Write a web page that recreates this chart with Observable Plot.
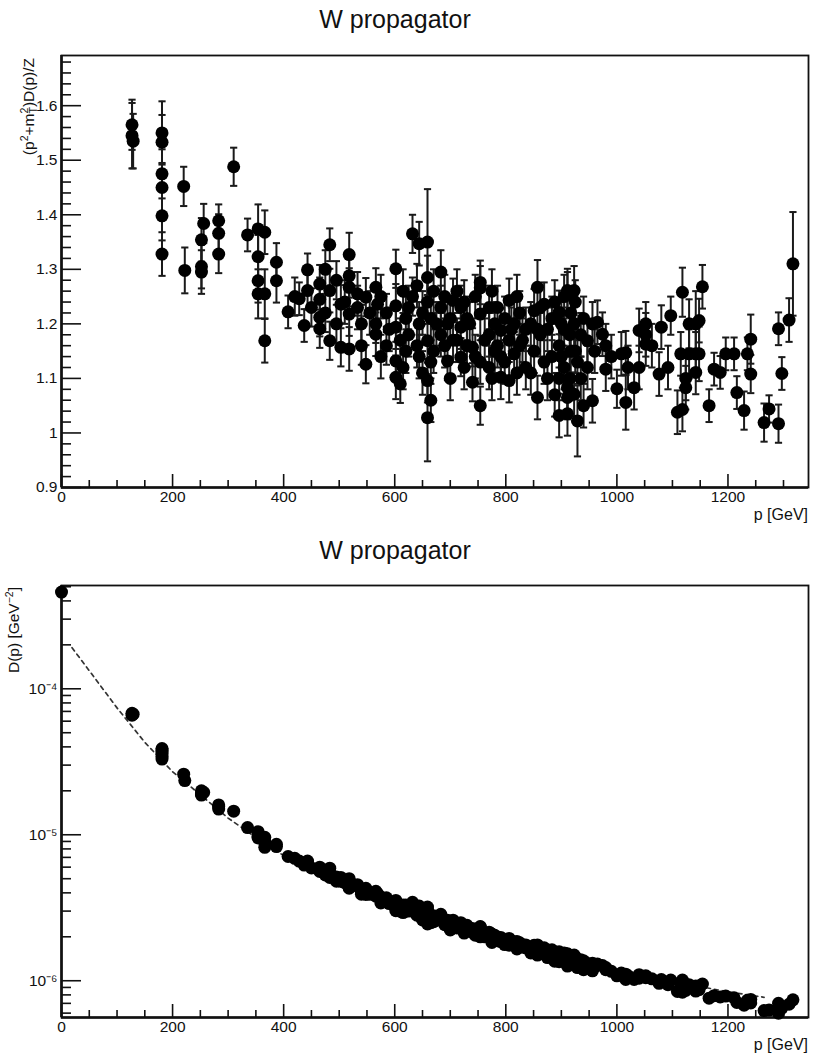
<!DOCTYPE html>
<html><head><meta charset="utf-8">
<script src="https://cdn.jsdelivr.net/npm/d3@7"></script>
<script src="https://cdn.jsdelivr.net/npm/@observablehq/plot@0.6"></script>
<style>
body{margin:0;background:#fff;}
#wrap{position:relative;width:813px;height:1064px;font-family:"Liberation Sans",Arial,sans-serif;background:#fff;overflow:hidden;}
.title{position:absolute;left:0;width:790px;text-align:center;font-size:25px;line-height:25px;color:#111;}
.plot{position:absolute;left:0;}
</style></head><body>
<div id="wrap">
  <div class="title" style="top:7px">W propagator</div>
  <div class="plot" id="top" style="top:40px"></div>
  <div class="title" style="top:538px">W propagator</div>
  <div class="plot" id="bot" style="top:570px"></div>
</div>
<script>
// ---------- data ----------
const xTitle = "p [GeV]";
const xDomain = [0, 1345];
const yDomainTop = [0.9, 1.692];
const yDomainBot = [5.6e-7, 5.1e-4];
const xMajor = [0, 200, 400, 600, 800, 1000, 1200];
const xMinor = [50,100,150,250,300,350,450,500,550,650,700,750,850,900,950,1050,1100,1150,1250,1300];
const yMajorTop = [0.9, 1, 1.1, 1.2, 1.3, 1.4, 1.5, 1.6];
const yMajorTopLabels = ["0.9", "1", "1.1", "1.2", "1.3", "1.4", "1.5", "1.6"];
const yMinorTop = [0.92,0.94,0.96,0.98,1.02,1.04,1.06,1.08,1.12,1.14,1.16,1.18,1.22,1.24,1.26,1.28,1.32,1.34,1.36,1.38,1.42,1.44,1.46,1.48,1.52,1.54,1.56,1.58,1.62,1.64,1.66,1.68];
const yMajorBot = [1e-6, 1e-5, 1e-4];
const yMajorBotLabels = ["10\u207B\u2076", "10\u207B\u2075", "10\u207B\u2074"];
const yMinorBot = [6e-7,7e-7,8e-7,9e-7,2e-6,3e-6,4e-6,5e-6,6e-6,7e-6,8e-6,9e-6,2e-5,3e-5,4e-5,5e-5,6e-5,7e-5,8e-5,9e-5,2e-4,3e-4,4e-4,5e-4];

// top panel: [p, (p^2+m^2)D(p)/Z, error]
const topPoints = [
[127,1.565,0.046],[127,1.545,0.06],[129,1.535,0.05],
[181,1.55,0.058],[181,1.533,0.05],[181,1.475,0.045],[181,1.45,0.045],[181,1.398,0.045],[181,1.328,0.04],
[220,1.452,0.036],[222,1.298,0.042],
[252,1.354,0.04],[252,1.305,0.04],[252,1.295,0.04],[256,1.384,0.036],
[283,1.389,0.03],[283,1.366,0.035],[283,1.328,0.035],
[310,1.488,0.035],[335,1.363,0.03],
[354,1.374,0.045],[354,1.323,0.04],[354,1.279,0.04],[354,1.255,0.045],
[366,1.368,0.04],[366,1.255,0.045],[366,1.169,0.04],
[387,1.313,0.035],[387,1.279,0.04],
[408,1.222,0.03],[420,1.25,0.035],[428,1.246,0.03],[437,1.197,0.03],
[443,1.299,0.03],[443,1.261,0.035],[450,1.23,0.035],
[465,1.273,0.035],[465,1.245,0.04],[465,1.212,0.035],[465,1.191,0.035],
[475,1.3,0.035],[475,1.22,0.035],
[483,1.345,0.03],[483,1.261,0.04],[483,1.169,0.035],
[495,1.28,0.035],[495,1.2,0.035],
[503,1.236,0.035],[503,1.157,0.035],[510,1.24,0.04],
[518,1.327,0.04],[518,1.288,0.04],[518,1.267,0.035],[518,1.218,0.04],[518,1.154,0.04],
[533,1.255,0.04],[533,1.23,0.04],[540,1.2,0.035],[540,1.16,0.035],
[548,1.249,0.035],[548,1.126,0.035],[555,1.22,0.04],
[566,1.267,0.035],[566,1.2,0.035],[566,1.181,0.04],[569,1.236,0.035],
[575,1.25,0.04],[575,1.14,0.04],
[585,1.22,0.035],[585,1.16,0.035],[590,1.19,0.04],
[602,1.301,0.035],[602,1.233,0.04],[602,1.194,0.04],[602,1.132,0.035],[602,1.102,0.04],
[610,1.17,0.04],[610,1.09,0.035],[615,1.26,0.04],[615,1.12,0.04],
[620,1.21,0.04],[620,1.15,0.04],[625,1.23,0.04],[625,1.18,0.04],
[632,1.365,0.035],[632,1.25,0.035],
[640,1.27,0.04],[640,1.16,0.04],
[644,1.347,0.04],[644,1.2,0.04],[644,1.14,0.04],
[650,1.22,0.04],[650,1.11,0.04],
[659,1.35,0.097],[659,1.285,0.04],[659,1.24,0.04],[659,1.169,0.04],[659,1.096,0.04],[659,1.028,0.08],
[665,1.21,0.04],[665,1.13,0.04],[665,1.06,0.04],
[670,1.26,0.04],[670,1.15,0.04],[675,1.2,0.04],
[683,1.295,0.04],[683,1.23,0.04],[683,1.18,0.04],
[690,1.25,0.04],[690,1.16,0.04],
[695,1.2,0.04],[695,1.132,0.035],
[700,1.21,0.04],[700,1.1,0.04],
[705,1.243,0.04],[705,1.17,0.04],
[712,1.26,0.04],[712,1.17,0.04],
[719,1.23,0.04],[719,1.194,0.04],[719,1.139,0.035],
[725,1.24,0.04],[725,1.12,0.04],
[730,1.21,0.04],[730,1.16,0.04],[735,1.2,0.04],
[740,1.157,0.035],[740,1.093,0.035],
[745,1.25,0.04],[745,1.14,0.04],
[754,1.276,0.04],[754,1.266,0.04],[754,1.218,0.04],[754,1.13,0.04],[754,1.05,0.035],
[762,1.17,0.04],
[770,1.23,0.04],[770,1.18,0.04],[770,1.12,0.04],
[775,1.26,0.04],[775,1.1,0.04],
[780,1.2,0.04],[780,1.15,0.04],
[785,1.23,0.04],[785,1.16,0.04],
[791,1.188,0.04],[791,1.14,0.04],[791,1.102,0.04],
[798,1.21,0.04],[798,1.13,0.04],
[806,1.243,0.04],[806,1.17,0.04],[806,1.096,0.04],
[810,1.19,0.04],
[815,1.2,0.04],[815,1.145,0.04],
[820,1.25,0.04],[820,1.11,0.04],
[825,1.22,0.04],[825,1.16,0.04],[830,1.17,0.04],
[836,1.19,0.04],[836,1.12,0.04],
[845,1.2,0.04],[845,1.11,0.04],
[851,1.224,0.04],[851,1.15,0.04],
[857,1.267,0.05],[857,1.19,0.04],[857,1.065,0.04],
[862,1.23,0.04],[862,1.18,0.04],
[869,1.236,0.04],[869,1.13,0.04],
[875,1.19,0.04],[875,1.1,0.04],
[883,1.21,0.04],[883,1.14,0.04],
[888,1.24,0.04],[888,1.07,0.04],
[896,1.221,0.04],[896,1.16,0.04],[896,1.1,0.04],[896,1.032,0.04],
[900,1.2,0.04],[900,1.14,0.04],
[905,1.25,0.04],[905,1.19,0.04],[905,1.12,0.04],
[911,1.261,0.04],[911,1.255,0.04],[911,1.083,0.04],[911,1.065,0.04],[911,1.035,0.04],
[915,1.18,0.04],[915,1.1,0.04],
[917,1.22,0.04],[917,1.15,0.04],
[923,1.261,0.045],[923,1.2,0.04],[923,1.071,0.04],
[925,1.24,0.04],[925,1.15,0.04],
[929,1.13,0.04],[929,1.022,0.065],
[935,1.18,0.04],[935,1.1,0.04],
[940,1.21,0.04],[940,1.05,0.04],
[947,1.169,0.04],[947,1.12,0.04],
[956,1.2,0.04],[956,1.059,0.04],[960,1.15,0.04],
[965,1.203,0.04],[974,1.181,0.04],
[980,1.16,0.04],[980,1.117,0.04],[990,1.14,0.04],
[1000,1.081,0.035],[1008,1.145,0.04],
[1016,1.147,0.04],[1016,1.056,0.05],[1020,1.12,0.04],
[1031,1.083,0.04],
[1040,1.188,0.04],[1040,1.12,0.04],
[1052,1.2,0.04],[1052,1.18,0.04],[1052,1.163,0.04],
[1063,1.16,0.04],[1076,1.108,0.04],[1080,1.194,0.04],[1092,1.12,0.04],[1097,1.215,0.035],
[1109,1.038,0.04],[1115,1.145,0.04],
[1118,1.258,0.045],[1118,1.043,0.04],
[1124,1.1,0.04],[1124,1.083,0.04],
[1130,1.2,0.045],[1130,1.145,0.045],
[1142,1.2,0.06],[1142,1.145,0.04],[1142,1.111,0.04],
[1148,1.206,0.04],[1148,1.145,0.05],
[1154,1.268,0.04],[1166,1.05,0.03],[1175,1.117,0.03],[1186,1.111,0.03],[1196,1.145,0.03],
[1211,1.145,0.03],[1216,1.074,0.03],[1229,1.041,0.035],[1235,1.145,0.03],
[1241,1.172,0.045],[1241,1.108,0.035],
[1265,1.019,0.035],[1274,1.044,0.025],
[1291,1.191,0.03],[1291,1.017,0.035],[1297,1.109,0.03],[1310,1.207,0.04],[1317,1.31,0.095]
];

// bottom panel: [p, D(p) in GeV^-2]
const botPoints = [
[0,4.6e-4],
[127,6.8e-5],[127,6.6e-5],[129,6.7e-5],
[181,3.9e-5],[181,3.8e-5],[181,3.7e-5],[181,3.6e-5],[181,3.45e-5],[181,3.3e-5],
[220,2.6e-5],[222,2.35e-5],
[252,2.0e-5],[252,1.9e-5],[252,1.87e-5],[256,1.95e-5],
[283,1.6e-5],[283,1.56e-5],[283,1.5e-5],
[310,1.45e-5],[335,1.12e-5],
[354,1.05e-5],[354,1.0e-5],[354,9.7e-6],[354,9.5e-6],
[366,9.6e-6],[366,8.9e-6],[366,8.2e-6],
[387,8.6e-6],[387,8.3e-6],
[408,7.1e-6],[420,6.9e-6],[428,6.6e-6],[437,6.2e-6],[443,6.6e-6],[443,6.4e-6],[450,5.93e-6],
[465,6.0e-6],[465,5.85e-6],[465,5.7e-6],[465,5.6e-6],
[475,5.64e-6],[475,5.3e-6],
[483,5.9e-6],[483,5.5e-6],[483,5.1e-6],
[495,5.13e-6],[495,4.81e-6],
[503,5.1e-6],[503,4.8e-6],[510,4.69e-6],
[518,5.0e-6],[518,4.85e-6],[518,4.75e-6],[518,4.55e-6],[518,4.3e-6],
[533,4.55e-6],[533,4.45e-6],[540,4.06e-6],[540,3.92e-6],
[548,4.3e-6],[548,3.9e-6],[555,3.91e-6],
[566,4.1e-6],[566,3.85e-6],[566,3.8e-6],[569,3.95e-6],
[575,3.74e-6],[575,3.41e-6],
[585,3.7e-6],[585,3.5e-6],[590,3.38e-6],
[602,3.55e-6],[602,3.4e-6],[602,3.28e-6],[602,3.1e-6],[602,3.02e-6],
[610,3.25e-6],[610,3.0e-6],[615,3.3e-6],[615,2.93e-6],
[620,3.3e-6],[620,3.15e-6],[625,3.12e-6],[625,3.0e-6],
[632,3.45e-6],[632,3.15e-6],
[640,3.07e-6],[640,2.81e-6],
[644,3.25e-6],[644,2.95e-6],[644,2.8e-6],
[650,2.87e-6],[650,2.61e-6],
[659,3.2e-6],[659,3.05e-6],[659,2.95e-6],[659,2.75e-6],[659,2.6e-6],[659,2.45e-6],
[665,2.8e-6],[665,2.65e-6],[665,2.5e-6],
[670,2.79e-6],[670,2.54e-6],[675,2.62e-6],
[683,2.85e-6],[683,2.7e-6],[683,2.6e-6],
[690,2.61e-6],[690,2.42e-6],
[695,2.6e-6],[695,2.5e-6],
[700,2.46e-6],[700,2.23e-6],
[705,2.6e-6],[705,2.45e-6],
[712,2.47e-6],[712,2.3e-6],
[719,2.5e-6],[719,2.45e-6],[719,2.35e-6],
[725,2.34e-6],[725,2.12e-6],
[730,2.4e-6],[730,2.3e-6],[735,2.21e-6],
[740,2.28e-6],[740,2.15e-6],
[745,2.24e-6],[745,2.05e-6],
[754,2.35e-6],[754,2.33e-6],[754,2.25e-6],[754,2.12e-6],[754,2.0e-6],
[762,2.0e-6],
[770,2.15e-6],[770,2.08e-6],[770,2.0e-6],
[775,2.09e-6],[775,1.83e-6],
[780,2.05e-6],[780,1.97e-6],
[785,1.99e-6],[785,1.88e-6],
[791,1.98e-6],[791,1.92e-6],[791,1.85e-6],
[798,1.9e-6],[798,1.77e-6],
[806,1.95e-6],[806,1.85e-6],[806,1.75e-6],
[810,1.81e-6],
[815,1.85e-6],[815,1.78e-6],
[820,1.86e-6],[820,1.65e-6],
[825,1.82e-6],[825,1.75e-6],[830,1.7e-6],
[836,1.76e-6],[836,1.68e-6],
[845,1.68e-6],[845,1.55e-6],
[851,1.75e-6],[851,1.65e-6],
[857,1.76e-6],[857,1.67e-6],[857,1.5e-6],
[862,1.65e-6],[862,1.59e-6],
[869,1.68e-6],[869,1.55e-6],
[875,1.56e-6],[875,1.44e-6],
[883,1.63e-6],[883,1.55e-6],
[888,1.57e-6],[888,1.36e-6],
[896,1.58e-6],[896,1.5e-6],[896,1.43e-6],[896,1.35e-6],
[900,1.48e-6],[900,1.4e-6],
[905,1.55e-6],[905,1.48e-6],[905,1.4e-6],
[911,1.53e-6],[911,1.52e-6],[911,1.31e-6],[911,1.29e-6],[911,1.26e-6],
[915,1.41e-6],[915,1.31e-6],
[917,1.47e-6],[917,1.4e-6],
[923,1.5e-6],[923,1.43e-6],[923,1.28e-6],
[925,1.45e-6],[925,1.35e-6],
[929,1.35e-6],[929,1.23e-6],
[935,1.39e-6],[935,1.3e-6],
[940,1.37e-6],[940,1.19e-6],
[947,1.31e-6],[947,1.25e-6],
[956,1.32e-6],[956,1.17e-6],[960,1.25e-6],
[965,1.3e-6],[974,1.27e-6],
[980,1.23e-6],[980,1.19e-6],[990,1.16e-6],
[1000,1.08e-6],[1008,1.13e-6],
[1016,1.11e-6],[1016,1.02e-6],[1020,1.08e-6],
[1031,1.02e-6],
[1040,1.1e-6],[1040,1.04e-6],
[1052,1.08e-6],[1052,1.07e-6],[1052,1.05e-6],
[1063,1.03e-6],[1076,9.6e-7],[1080,1.02e-6],[1092,9.4e-7],[1097,1.01e-6],
[1109,8.45e-7],[1115,9.2e-7],[1118,1.01e-6],[1118,8.35e-7],
[1124,8.7e-7],[1124,8.6e-7],
[1130,9.4e-7],[1130,9.0e-7],
[1142,9.2e-7],[1142,8.8e-7],[1142,8.5e-7],
[1148,9.2e-7],[1148,8.7e-7],
[1154,9.5e-7],[1166,7.6e-7],[1175,7.9e-7],[1186,7.75e-7],[1196,7.85e-7],
[1211,7.65e-7],[1216,7.1e-7],[1229,6.8e-7],[1235,7.35e-7],
[1241,7.45e-7],[1241,7.05e-7],
[1265,6.25e-7],[1274,6.3e-7],
[1291,7.0e-7],[1291,6.0e-7],[1297,6.5e-7],[1310,6.9e-7],[1317,7.4e-7]
];

// dashed curve in the bottom panel: [p, D]
const fitPoints = [
[19,1.91e-4],[50,1.33e-4],[100,7.4e-5],[150,4.3e-5],[200,2.7e-5],[250,1.88e-5],[300,1.3e-5],
[350,9.6e-6],[400,7.2e-6],[500,4.6e-6],[600,3.2e-6],[700,2.4e-6],[800,1.85e-6],[900,1.46e-6],
[1000,1.19e-6],[1100,9.9e-7],[1200,8.4e-7],[1265,7.7e-7]
];

// ---------- drawing ----------
const FONT = '"Liberation Sans", Arial, Helvetica, sans-serif';
const INK = "#111";
const capSymbol = {draw(ctx, size) { const r = Math.sqrt(size / Math.PI); ctx.moveTo(-r, 0); ctx.lineTo(r, 0); }};

const topData = topPoints.map(([p, v, e]) => ({p, v, lo: v - e, hi: v + e}));
const botData = botPoints.map(([p, d]) => ({p, d}));
const fitData = fitPoints.map(([p, d]) => ({p, d}));

const frameOpts = {width: 813, height: 490, marginLeft: 61, marginRight: 5, marginTop: 15, marginBottom: 43,
  style: {fontFamily: FONT, fontSize: "15.5px", color: INK, background: "transparent", overflow: "visible"}};

function xAxisMarks() {
  return [
    Plot.axisX(xMajor, {anchor: "bottom", tickSize: -13, tickFormat: () => "", label: null, strokeWidth: 1.6}),
    Plot.axisX(xMinor, {anchor: "bottom", tickSize: -7, tickFormat: () => "", label: null, strokeWidth: 1.6}),
    Plot.axisX(xMajor, {anchor: "bottom", tickSize: 0, tickPadding: 3, tickFormat: d => String(d), label: null})
  ];
}

const topPlot = Plot.plot({
  ...frameOpts,
  x: {domain: xDomain, label: null},
  y: {domain: yDomainTop, label: null},
  marks: [
    Plot.frame({stroke: INK, strokeWidth: 1.8}),
    Plot.ruleX([xDomain[0]], {stroke: INK, strokeWidth: 2.6}),
    Plot.ruleY([yDomainTop[0]], {stroke: INK, strokeWidth: 2.4}),
    ...xAxisMarks(),
    Plot.axisY(yMajorTop, {anchor: "left", tickSize: -20, tickFormat: () => "", label: null, strokeWidth: 1.6}),
    Plot.axisY(yMinorTop, {anchor: "left", tickSize: -10, tickFormat: () => "", label: null, strokeWidth: 1.6}),
    Plot.axisY(yMajorTop, {anchor: "left", tickSize: 0, tickPadding: 4, tickFormat: d => yMajorTopLabels[yMajorTop.indexOf(d)], label: null}),
    Plot.ruleX(topData, {x: "p", y1: "lo", y2: "hi", stroke: "#1a1a1a", strokeWidth: 2}),
    Plot.dot(topData, {x: "p", y: "lo", symbol: capSymbol, r: 3.6, fill: "none", stroke: "#1a1a1a", strokeWidth: 2}),
    Plot.dot(topData, {x: "p", y: "hi", symbol: capSymbol, r: 3.6, fill: "none", stroke: "#1a1a1a", strokeWidth: 2}),
    Plot.dot(topData, {x: "p", y: "v", r: 6.5, fill: "#000", stroke: "none"})
  ]
});

const botPlot = Plot.plot({
  ...frameOpts,
  x: {domain: xDomain, label: null},
  y: {type: "log", domain: yDomainBot, label: null},
  marks: [
    Plot.frame({stroke: INK, strokeWidth: 1.8}),
    Plot.ruleX([xDomain[0]], {stroke: INK, strokeWidth: 2.6}),
    Plot.ruleY([yDomainBot[0]], {stroke: INK, strokeWidth: 2.4}),
    ...xAxisMarks(),
    Plot.axisY(yMajorBot, {anchor: "left", tickSize: -20, tickFormat: () => "", label: null, strokeWidth: 1.6}),
    Plot.axisY(yMinorBot, {anchor: "left", tickSize: -10, tickFormat: () => "", label: null, strokeWidth: 1.6}),
    Plot.axisY(yMajorBot, {anchor: "left", tickSize: 0, tickPadding: 4, tickFormat: d => yMajorBotLabels[yMajorBot.indexOf(d)], label: null}),
    Plot.line(fitData, {x: "p", y: "d", stroke: "#333", strokeWidth: 1.7, strokeDasharray: "4,4", curve: "linear"}),
    Plot.dot(botData, {x: "p", y: "d", r: 6.5, fill: "#000", stroke: "none"})
  ]
});

document.getElementById("top").appendChild(topPlot);
document.getElementById("bot").appendChild(botPlot);

// axis titles (real text) appended to each svg
function addXTitle(svg) {
  d3.select(svg).append("text").attr("x", 808).attr("y", 480)
    .attr("text-anchor", "end").style("font-size", "16px").style("font-family", FONT).attr("fill", INK)
    .text(xTitle);
}
addXTitle(topPlot);
addXTitle(botPlot);

{
  const t = d3.select(topPlot).append("text")
    .attr("transform", "translate(34,18) rotate(-90)").attr("text-anchor", "end")
    .style("font-size", "15.5px").style("font-family", FONT).attr("fill", INK);
  t.append("tspan").text("(p");
  t.append("tspan").attr("dy", -6).style("font-size", "10.5px").text("2");
  t.append("tspan").attr("dy", 6).text("+m");
  t.append("tspan").attr("dy", -6).style("font-size", "10.5px").text("2");
  t.append("tspan").attr("dx", -5.8).attr("dy", 9).style("font-size", "10.5px").text("T");
  t.append("tspan").attr("dy", -3).text(")D(p)/Z");
}
{
  const t = d3.select(botPlot).append("text")
    .attr("transform", "translate(19,17) rotate(-90)").attr("text-anchor", "end")
    .style("font-size", "15.5px").style("font-family", FONT).attr("fill", INK);
  t.append("tspan").text("D(p) [GeV");
  t.append("tspan").attr("dy", -6).style("font-size", "10.5px").text("\u22122");
  t.append("tspan").attr("dy", 6).text("]");
}
</script>
</body></html>
